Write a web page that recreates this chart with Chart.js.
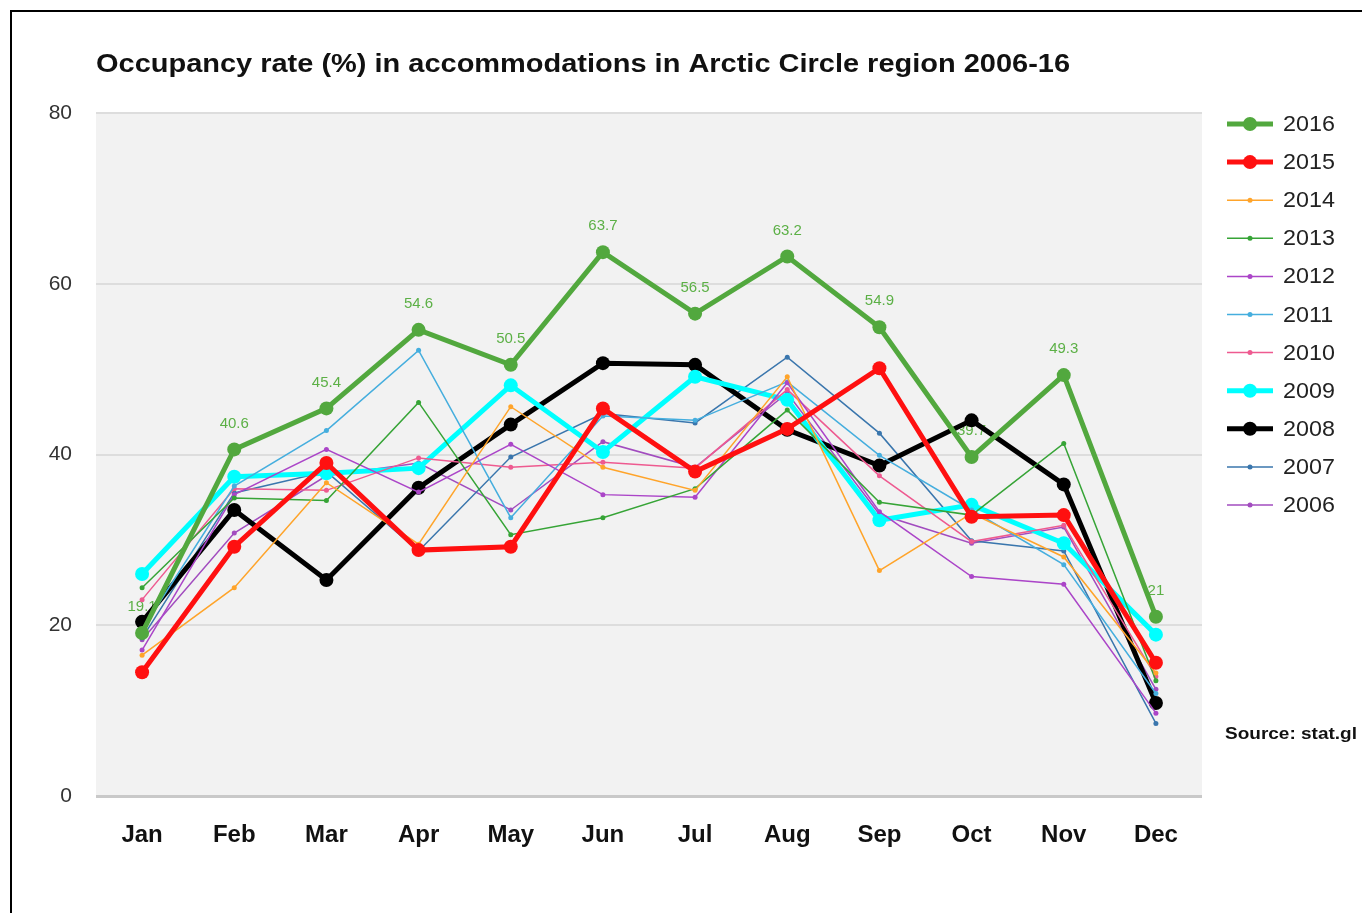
<!DOCTYPE html>
<html>
<head>
<meta charset="utf-8">
<script src="https://cdn.jsdelivr.net/npm/chart.js@4.4.1/dist/chart.umd.min.js"></script>
<style>
html,body{margin:0;padding:0;background:#fff;}
#wrap{position:relative;width:1362px;height:913px;}
canvas{display:block;}
</style>
</head>
<body>
<div id="wrap"><canvas id="c" width="1362" height="913"></canvas></div>
<script>
const months = ['Jan','Feb','Mar','Apr','May','Jun','Jul','Aug','Sep','Oct','Nov','Dec'];
const yTicks = [0,20,40,60,80];
const chartTitle = 'Occupancy rate (%) in accommodations in Arctic Circle region 2006-16';
const sourceText = 'Source: stat.gl';

const y2016 = [19.1, 40.6, 45.4, 54.6, 50.5, 63.7, 56.5, 63.2, 54.9, 39.7, 49.3, 21.0];
const y2015 = [14.5, 29.2, 39.0, 28.8, 29.2, 45.4, 38.0, 43.0, 50.1, 32.7, 32.9, 15.6];
const y2014 = [16.5, 24.4, 36.7, 29.5, 45.6, 38.5, 35.8, 49.1, 26.4, 33.1, 28.0, 14.4];
const y2013 = [24.4, 34.9, 34.6, 46.1, 30.6, 32.6, 36.0, 45.2, 34.4, 32.9, 41.3, 13.5];
const y2012 = [17.1, 35.3, 40.6, 35.6, 41.2, 35.3, 35.0, 48.4, 33.3, 25.7, 24.8, 9.7];
const y2011 = [19.5, 36.3, 42.8, 52.2, 32.6, 44.5, 44.0, 48.5, 39.9, 33.5, 27.1, 12.0];
const y2010 = [23.0, 36.0, 35.8, 39.6, 38.5, 39.1, 38.4, 47.6, 37.5, 29.8, 31.7, 14.0];
const y2009 = [26.0, 37.4, 37.8, 38.4, 48.1, 40.3, 49.1, 46.4, 32.3, 34.1, 29.6, 18.9];
const y2008 = [20.4, 33.5, 25.3, 36.1, 43.5, 50.7, 50.5, 42.9, 38.7, 44.0, 36.5, 10.9];
const y2007 = [18.5, 35.5, 38.0, 28.7, 39.7, 44.8, 43.7, 51.4, 42.5, 29.9, 28.7, 8.5];
const y2006 = [18.3, 30.8, 37.5, 39.0, 33.5, 41.5, 38.5, 47.2, 33.0, 29.6, 31.5, 12.5];

const years  = ['2016','2015','2014','2013','2012','2011','2010','2009','2008','2007','2006'];
const values = [y2016, y2015, y2014, y2013, y2012, y2011, y2010, y2009, y2008, y2007, y2006];
const colors = ['#52a83e','#ff1010','#ffa42a','#36a436','#ab45c8','#45aede','#ee5a90','#00ffff','#000000','#3a76ad','#a24cbf'];
const thick  = [true, true, false, false, false, false, false, true, true, false, false];

const datasets = years.map((y, i) => ({
  label: y,
  data: values[i],
  borderColor: colors[i],
  backgroundColor: colors[i],
  pointBackgroundColor: colors[i],
  pointBorderColor: colors[i],
  borderWidth: thick[i] ? 5 : 1.5,
  pointRadius: thick[i] ? 7 : 2.5,
  pointBorderWidth: 0,
  tension: 0,
  fill: false
}));

function stretchedText(ctx, text, x, y, sx) {
  ctx.save();
  ctx.translate(x, y);
  ctx.scale(sx, 1);
  ctx.fillText(text, 0, 0);
  ctx.restore();
}

const frameAndBg = {
  id: 'frameAndBg',
  beforeDraw(chart) {
    const ctx = chart.ctx, a = chart.chartArea;
    ctx.save();
    ctx.fillStyle = '#ffffff';
    ctx.fillRect(0, 0, chart.width, chart.height);
    ctx.fillStyle = '#f2f2f2';
    ctx.fillRect(a.left, a.top, a.right - a.left, a.bottom - a.top);
    ctx.strokeStyle = '#000';
    ctx.lineWidth = 2;
    ctx.strokeRect(11, 11, 1500, 1500);
    ctx.fillStyle = '#111';
    ctx.textBaseline = 'middle';
    ctx.textAlign = 'left';
    ctx.font = 'bold 25px "Liberation Sans", Arial, sans-serif';
    const tw = ctx.measureText(chartTitle).width;
    stretchedText(ctx, chartTitle, 96, 65, 974 / tw);
    ctx.font = 'bold 16px "Liberation Sans", Arial, sans-serif';
    const sw = ctx.measureText(sourceText).width;
    stretchedText(ctx, sourceText, 1225, 735, 132 / sw);
    ctx.restore();
  }
};

const valueLabels = {
  id: 'valueLabels',
  beforeDatasetsDraw(chart) {
    const ctx = chart.ctx;
    const meta = chart.getDatasetMeta(0);
    ctx.save();
    ctx.fillStyle = '#5cb046';
    ctx.font = '15px "Liberation Sans", Arial, sans-serif';
    ctx.textAlign = 'center';
    ctx.textBaseline = 'middle';
    meta.data.forEach((pt, i) => {
      ctx.fillText(String(chart.data.datasets[0].data[i]), pt.x, pt.y - 26);
    });
    ctx.restore();
  }
};

const sideLegend = {
  id: 'sideLegend',
  afterDraw(chart) {
    const ctx = chart.ctx;
    ctx.save();
    chart.data.datasets.forEach((ds, i) => {
      const y = 124 + i * 38.1;
      ctx.strokeStyle = ds.borderColor;
      ctx.lineWidth = ds.borderWidth;
      ctx.beginPath();
      ctx.moveTo(1227, y);
      ctx.lineTo(1273, y);
      ctx.stroke();
      ctx.fillStyle = ds.borderColor;
      ctx.beginPath();
      ctx.arc(1250, y, ds.pointRadius, 0, Math.PI * 2);
      ctx.fill();
      ctx.fillStyle = '#222';
      ctx.font = '22px "Liberation Sans", Arial, sans-serif';
      ctx.textAlign = 'left';
      ctx.textBaseline = 'middle';
      stretchedText(ctx, ds.label, 1283, y + 1, 1.06);
    });
    ctx.restore();
  }
};

new Chart(document.getElementById('c'), {
  type: 'line',
  data: { labels: months, datasets: datasets },
  options: {
    responsive: false,
    animation: false,
    events: [],
    layout: { padding: { left: 20, top: 113, right: 160, bottom: 57 } },
    plugins: {
      legend: { display: false },
      title: { display: false },
      tooltip: { enabled: false }
    },
    scales: {
      x: {
        type: 'category',
        offset: true,
        grid: { display: false },
        border: { display: false },
        ticks: {
          color: '#111',
          font: { family: '"Liberation Sans", Arial, sans-serif', size: 24, weight: 'bold' },
          padding: 17,
          maxRotation: 0,
          autoSkip: false
        },
        afterFit(s) { s.height = 60; }
      },
      y: {
        min: 0,
        max: 80,
        afterBuildTicks(s) { s.ticks = yTicks.map(v => ({ value: v })); },
        grid: {
          drawTicks: false,
          color: (c) => c.tick && c.tick.value === 0 ? '#c9c9c9' : '#dddddd',
          lineWidth: (c) => c.tick && c.tick.value === 0 ? 3 : 2
        },
        border: { display: false },
        ticks: {
          color: '#333',
          font: { family: '"Liberation Sans", Arial, sans-serif', size: 21 },
          padding: 24
        },
        afterFit(s) { s.width = 76; }
      }
    }
  },
  plugins: [frameAndBg, valueLabels, sideLegend]
});
</script>
</body>
</html>
